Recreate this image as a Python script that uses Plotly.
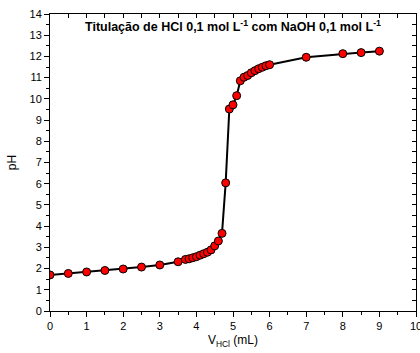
import plotly.graph_objects as go

v_naoh = [0, 0.5, 1, 1.5, 2, 2.5, 3, 3.5, 3.7, 3.8, 3.9, 4.0, 4.1, 4.2, 4.3, 4.4, 4.5, 4.6, 4.7,
          4.8, 4.9, 5.0, 5.1, 5.2, 5.3, 5.4, 5.5, 5.6, 5.7, 5.8, 5.9, 6.0, 7, 8, 8.5, 9]
ph = [1.70, 1.77, 1.84, 1.91, 1.98, 2.07, 2.17, 2.32, 2.43, 2.46, 2.51, 2.56, 2.63, 2.70, 2.77, 2.88, 3.07, 3.30, 3.66,
      6.04, 9.52, 9.72, 10.15, 10.85, 11.02, 11.10, 11.23, 11.33, 11.42, 11.49, 11.56, 11.61, 11.96, 12.13, 12.18, 12.25]

x_ticks = list(range(0, 11))
y_ticks = list(range(0, 15))

font = "Liberation Sans, Arial, sans-serif"

fig = go.Figure()
fig.add_trace(go.Scatter(
    x=v_naoh, y=ph, mode="lines+markers",
    line=dict(color="black", width=2),
    marker=dict(color="#ff0000", size=8, line=dict(color="black", width=1)),
    showlegend=False,
))
# invisible trace to activate mirrored inside-tick axes
fig.add_trace(go.Scatter(x=[0, 10], y=[0, 14], xaxis="x2", yaxis="y2", mode="markers",
                         marker=dict(opacity=0), showlegend=False, hoverinfo="skip"))

axis_common = dict(showgrid=False, zeroline=False, linecolor="black", linewidth=1, mirror=True,
                   ticks="outside", ticklen=5, tickwidth=1, tickcolor="black", automargin=False,
                   ticklabeloverflow="allow",
                   tickfont=dict(family=font, size=11, color="black"))

sec_common = dict(showgrid=False, zeroline=False, showline=True, linecolor="black", linewidth=1,
                  ticks="inside", ticklen=4, tickwidth=1, tickcolor="black",
                  tickmode="linear", tick0=0, dtick=0.5, showticklabels=False,
                  automargin=False, visible=True)

fig.update_layout(
    width=420, height=353,
    margin=dict(l=50, r=4, t=14, b=42),
    plot_bgcolor="white", paper_bgcolor="white",
    font=dict(family=font, color="black"),
    xaxis=dict(range=[0, 10], tickvals=x_ticks, ticktext=[str(t) for t in x_ticks],
               minor=dict(dtick=0.5, ticks="outside", ticklen=3, tickcolor="black"),
               title=dict(text="V<sub>HCl</sub> (mL)", font=dict(size=12), standoff=4),
               **axis_common),
    yaxis=dict(range=[0, 14], tickvals=y_ticks, ticktext=[str(t) for t in y_ticks],
               minor=dict(dtick=0.5, ticks="outside", ticklen=3, tickcolor="black"),
               title=dict(text="pH", font=dict(size=12), standoff=10),
               **axis_common),
    xaxis2=dict(range=[0, 10], overlaying="x", side="top", anchor="y", **sec_common),
    yaxis2=dict(range=[0, 14], overlaying="y", side="right", anchor="x", **sec_common),
    annotations=[dict(
        text="<b>Titulação de HCl 0,1 mol L<sup>-1</sup> com NaOH 0,1 mol L<sup>-1</sup></b>",
        x=0.5, y=0.96, xref="paper", yref="paper", showarrow=False,
        font=dict(family=font, size=12.5, color="black"), xanchor="center", yanchor="middle")],
)

fig.write_html("out.html", config={"displayModeBar": False},
               post_script="document.body.style.margin='0';document.body.style.overflow='hidden';")
